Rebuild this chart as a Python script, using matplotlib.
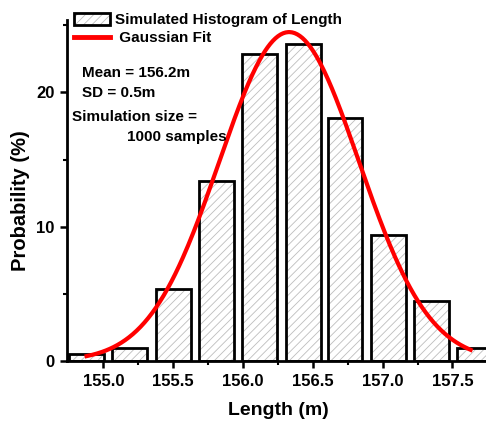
import numpy as np
import matplotlib
matplotlib.use("Agg")
import matplotlib.pyplot as plt
from matplotlib.patches import Patch
from matplotlib.lines import Line2D

plt.rcParams['font.family'] = ['Liberation Sans', 'DejaVu Sans']
plt.rcParams['font.weight'] = 'bold'
plt.rcParams['hatch.linewidth'] = 0.6

# histogram bins (centres in m) and probabilities (%)
bin_centers = [154.88, 155.19, 155.50, 155.81, 156.12, 156.43, 156.73, 157.04, 157.35, 157.66]
probability = [0.5, 1.0, 5.4, 13.4, 22.9, 23.6, 18.1, 9.4, 4.5, 1.0]
bar_width = 0.25

# gaussian fit parameters
fit_mean = 156.33
fit_sd = 0.50
fit_peak = 24.5
fit_range = (154.88, 157.63)

x_ticks = [155.0, 155.5, 156.0, 156.5, 157.0, 157.5]
y_ticks = [0, 10, 20]

fig = plt.figure(figsize=(4.86, 4.21), dpi=100)
ax = fig.add_axes([0.138, 0.1425, 0.862, 0.81])

# hatched fill first, then black outline on top
ax.bar(bin_centers, probability, width=bar_width, color='white',
       edgecolor='#bdbdbd', hatch='////', linewidth=0, zorder=1)
ax.bar(bin_centers, probability, width=bar_width, fill=False,
       edgecolor='black', linewidth=2, zorder=2)

xs = np.linspace(fit_range[0], fit_range[1], 300)
ys = fit_peak * np.exp(-(xs - fit_mean) ** 2 / (2 * fit_sd ** 2))
ax.plot(xs, ys, color='red', linewidth=3, zorder=3)

ax.set_xlim(154.74, 157.74)
ax.set_ylim(0, 25.4)
ax.set_xticks(x_ticks)
ax.set_xticklabels([f"{t:.1f}" for t in x_ticks])
ax.set_yticks(y_ticks)
ax.set_xticks([155.25, 155.75, 156.25, 156.75, 157.25], minor=True)
ax.set_yticks([5, 15, 25], minor=True)

for s in ['top', 'right']:
    ax.spines[s].set_visible(False)
for s in ['left', 'bottom']:
    ax.spines[s].set_linewidth(2)

ax.tick_params(which='major', length=5, width=1.8, labelsize=12, pad=4)
ax.tick_params(which='minor', length=3, width=1.5)

ax.set_xlabel('Length (m)', fontsize=14, fontweight='bold')
ax.set_ylabel('Probability (%)', fontsize=14.5, fontweight='bold')
ax.xaxis.set_label_coords(0.504, -0.12)
ax.yaxis.set_label_coords(-0.088, 0.47)

txt = dict(transform=ax.transAxes, fontsize=11, fontweight='bold', va='center', ha='left')
ax.text(0.036, 0.845, 'Mean = 156.2m', **txt)
ax.text(0.036, 0.786, 'SD = 0.5m', **txt)
ax.text(0.012, 0.716, 'Simulation size =', **txt)
ax.text(0.143, 0.657, '1000 samples', **txt)

hist_handle = (Patch(facecolor='white', edgecolor='#bdbdbd', hatch='////', linewidth=0),
               Patch(fill=False, edgecolor='black', linewidth=2))
fit_handle = Line2D([], [], color='red', linewidth=3.5)
ax.legend([hist_handle, fit_handle], ['Simulated Histogram of Length', ' Gaussian Fit'],
          loc='upper left', bbox_to_anchor=(0.0167, 1.021), frameon=False,
          fontsize=11, handlelength=2.35, handleheight=0.85, handletextpad=0.3,
          borderpad=0, borderaxespad=0, labelspacing=0.25)

fig.savefig('out.png', dpi=100)
